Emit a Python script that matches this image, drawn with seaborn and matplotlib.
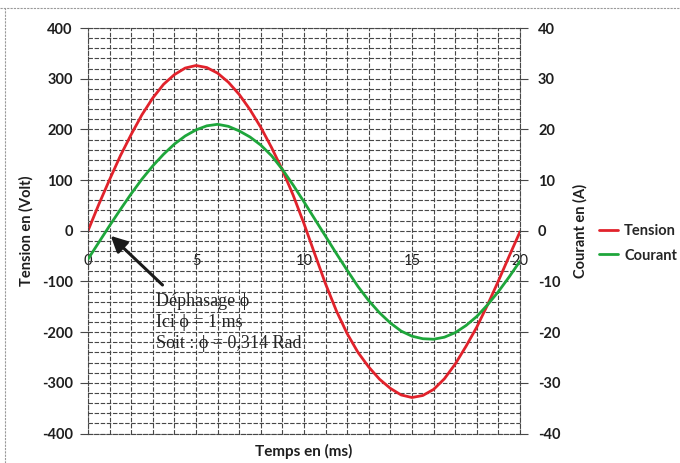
import matplotlib
matplotlib.use("Agg")
import matplotlib.pyplot as plt
import seaborn as sns
from matplotlib.lines import Line2D
from matplotlib.ticker import MultipleLocator


# ---------------------------------
# DATA
# ---------------------------------

temps_ms = [0, 0.5, 1, 1.5, 2, 2.5, 3, 3.5, 4, 4.5,
            5, 5.5, 6, 6.5, 7, 7.5, 8, 8.5, 9, 9.5,
            10, 10.5, 11, 11.5, 12, 12.5, 13, 13.5, 14, 14.5,
            15, 15.5, 16, 16.5, 17, 17.5, 18, 18.5, 19, 19.5, 20]

tension_v = [0, 52, 101, 148, 190, 229, 262, 289, 308, 321,
             326, 322, 311, 293, 269, 239, 204, 164, 120, 70,
             14, -46, -105, -158, -203, -240, -269, -293, -311, -324,
             -329, -325, -313, -292, -263, -228, -190, -146, -99, -50, -2]

courant_a = [-5.6, -2.3, 1.0, 4.2, 7.3, 10.2, 12.8, 15.1, 17.1, 18.7,
             19.9, 20.7, 21.0, 20.6, 19.7, 18.5, 16.9, 14.8, 12.1, 9.0,
             5.7, 2.3, -1.1, -4.5, -7.8, -11.0, -13.8, -16.2, -18.2, -19.8,
             -20.8, -21.3, -21.4, -21.0, -20.1, -18.7, -16.9, -14.6, -12.0, -9.1, -6.0]

x_ticks = [0, 5, 10, 15, 20]
tension_ticks = [400, 300, 200, 100, 0, -100, -200, -300, -400]
courant_ticks = [40, 30, 20, 10, 0, -10, -20, -30, -40]

annotation_lines = ["Déphasage \u03d5", "Ici \u03d5 = 1 ms", "Soit : \u03d5 = 0,314 Rad"]

RED = "#e1222b"
GREEN = "#1ea63b"
GRID = "#474747"
TEXT = "#1e1e1e"
DASH = (0, (4, 1.5))


# ---------------------------------
# PLOT
# ---------------------------------

def draw_chart():

    sns.set_theme(style="white")
    plt.rcParams["font.family"] = ["Lato", "DejaVu Sans"]
    plt.rcParams["axes.unicode_minus"] = False

    fig = plt.figure(figsize=(6.8, 4.63), dpi=100)
    fig.patch.set_facecolor("white")

    ax = fig.add_axes([0.1294, 0.0637, 0.6353, 0.8758])
    ax2 = ax.twinx()

    sns.lineplot(x=temps_ms, y=tension_v, ax=ax, color=RED,
                 linewidth=2.0, label="Tension", legend=False)
    sns.lineplot(x=temps_ms, y=courant_a, ax=ax2, color=GREEN,
                 linewidth=2.0, label="Courant", legend=False)

    ax.set_xlim(0, 20)
    ax.set_ylim(-400, 400)
    ax2.set_ylim(-40, 40)

    # grid: 1 ms vertically, 20 V horizontally
    ax.xaxis.set_major_locator(MultipleLocator(1))
    ax.set_xticklabels([])
    ax.tick_params(axis="x", length=0)
    ax.set_yticks(tension_ticks)
    ax.yaxis.set_minor_locator(MultipleLocator(20))
    ax.grid(True, which="both", color=GRID, linestyle=DASH, linewidth=0.8)

    # outer frame drawn like the grid
    for spine in ax.spines.values():
        spine.set_visible(True)
        spine.set_color(GRID)
        spine.set_linewidth(0.8)
        spine.set_linestyle(DASH)
    for spine in ax2.spines.values():
        spine.set_visible(False)

    ax.tick_params(axis="y", which="major", direction="out", length=6, width=0.8,
                   color=GRID, pad=5, labelsize=10.5, labelcolor=TEXT)
    ax.tick_params(axis="y", which="minor", length=0)
    for lab in ax.get_yticklabels():
        lab.set_fontweight("bold")

    ax2.set_yticks(courant_ticks)
    ax2.tick_params(axis="y", direction="out", length=6, width=0.8,
                    color=GRID, pad=7, labelsize=10.5, labelcolor=TEXT)
    for lab in ax2.get_yticklabels():
        lab.set_fontweight("bold")

    # time labels sit just under the zero line
    secax = ax.secondary_xaxis(0.5)
    secax.xaxis.set_ticks_position("bottom")
    secax.set_xticks(x_ticks)
    secax.set_xticklabels([str(v) for v in x_ticks])
    secax.tick_params(axis="x", length=0, pad=17, labelsize=10.5, labelcolor=TEXT,
                      labelbottom=True, labeltop=False)
    for spine in secax.spines.values():
        spine.set_visible(False)

    ax.set_xlabel("Temps en (ms)", fontsize=11, fontweight="bold", color=TEXT, labelpad=4)
    ax.set_ylabel("Tension en (Volt)", fontsize=10.5, fontweight="bold", color=TEXT, labelpad=6)
    ax2.set_ylabel("Courant en (A)", fontsize=10.5, fontweight="bold", color=TEXT, labelpad=9)

    # phase shift annotation
    ax.annotate("", xy=(1.05, -10), xytext=(3.45, -107),
                arrowprops=dict(arrowstyle="-|>", color="#1a1a1a", lw=2.2,
                                mutation_scale=24, shrinkA=0, shrinkB=0))
    ax.text(3.15, -122, "\n".join(annotation_lines), ha="left", va="top",
            family=["Liberation Serif", "DejaVu Serif"], fontsize=13,
            color="#262626", linespacing=1.33)

    handles = [Line2D([], [], color=RED, linewidth=2.0),
               Line2D([], [], color=GREEN, linewidth=2.0)]
    fig.legend(handles, ["Tension", "Courant"], loc="center left",
               bbox_to_anchor=(0.861, 0.475), frameon=False,
               handlelength=1.3, handletextpad=0.45, labelspacing=0.75,
               prop={"weight": "bold", "size": 10.5})

    # faint border of the scanned page
    fig.add_artist(Line2D([0.0, 1.0], [0.983, 0.983], transform=fig.transFigure,
                          color="#9a9a9a", linewidth=0.8, linestyle=(0, (2, 1))))
    fig.add_artist(Line2D([0.007, 0.007], [0.0, 0.983], transform=fig.transFigure,
                          color="#9a9a9a", linewidth=0.8, linestyle=(0, (2, 1))))

    fig.savefig("out.png", dpi=100, facecolor="white")


def main():

    draw_chart()


if __name__ == "__main__":
    main()
